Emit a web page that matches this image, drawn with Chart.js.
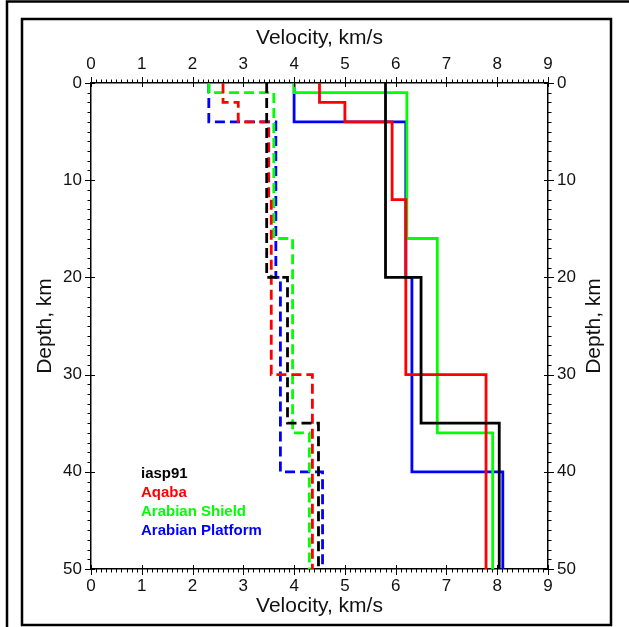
<!DOCTYPE html>
<html>
<head>
<meta charset="utf-8">
<script src="https://cdn.jsdelivr.net/npm/chart.js@4.4.1/dist/chart.umd.min.js"></script>
<style>
  html, body { margin: 0; padding: 0; background: #fff; }
  #wrap { width: 629px; height: 627px; }
</style>
</head>
<body>
<div id="wrap"><canvas id="velChart" width="629" height="627"></canvas></div>
<script>
// models, legend order
const modelNames = ['iasp91', 'Aqaba', 'Arabian Shield', 'Arabian Platform'];
const modelColors = ['#000000', '#ff0000', '#00ff00', '#0000ff'];

// layer tops in km (each layer runs down to the next top, the last one to bottomDepth)
const iaspTops = [0, 20, 35];
const iaspVp = [5.8, 6.5, 8.04];
const iaspVs = [3.46, 3.87, 4.48];

const aqabaTops = [0, 2, 4, 12, 30];
const aqabaVp = [4.5, 5.0, 5.93, 6.2, 7.78];
const aqabaVs = [2.6, 2.9, 3.5, 3.55, 4.36];

const shieldTops = [0, 1, 16, 36];
const shieldVp = [4.0, 6.22, 6.82, 7.91];
const shieldVs = [2.32, 3.6, 3.97, 4.3];

const platformTops = [0, 4, 20, 40];
const platformVp = [4.0, 6.2, 6.32, 8.11];
const platformVs = [2.32, 3.64, 3.73, 4.56];

const bottomDepth = 50;
const velocityTicks = [0, 1, 2, 3, 4, 5, 6, 7, 8, 9];
const depthTicks = [0, 10, 20, 30, 40, 50];

const fontFam = '"Liberation Sans", Arial, Helvetica, sans-serif';

function stepPoints(tops, vel) {
    const pts = [];
    for (let i = 0; i < vel.length; i++) {
        const bot = i + 1 < tops.length ? tops[i + 1] : bottomDepth;
        pts.push({ x: vel[i], y: tops[i] });
        pts.push({ x: vel[i], y: bot });
    }
    return pts;
}

const models = [
    [iaspTops, iaspVp, iaspVs],
    [aqabaTops, aqabaVp, aqabaVs],
    [shieldTops, shieldVp, shieldVs],
    [platformTops, platformVp, platformVs]
];

const datasets = [];
models.forEach((m, i) => {
    datasets.push({
        label: modelNames[i] + ' Vp',
        data: stepPoints(m[0], m[1]),
        borderColor: modelColors[i],
        borderWidth: 2.8,
        showLine: true,
        pointRadius: 0,
        xAxisID: 'x',
        yAxisID: 'y'
    });
    datasets.push({
        label: modelNames[i] + ' Vs',
        data: stepPoints(m[0], m[2]),
        borderColor: modelColors[i],
        borderWidth: 2.8,
        borderDash: [10, 5],
        showLine: true,
        pointRadius: 0,
        xAxisID: 'x',
        yAxisID: 'y'
    });
});

// tick marks (minor + major), legend text, right title, page frame
const extras = {
    id: 'extras',
    afterDraw(chart) {
        const { ctx, chartArea: a } = chart;
        const sx = chart.scales.x, sy = chart.scales.y;
        ctx.save();
        ctx.strokeStyle = '#000';
        ctx.lineWidth = 1;
        ctx.beginPath();
        for (let i = 0; i <= 90; i++) {
            const px = Math.round(sx.getPixelForValue(i / 10)) + 0.5;
            const major = i % 10 === 0;
            const out = major ? 6 : 3.5, inn = major ? 4 : 0;
            ctx.moveTo(px, a.top - out); ctx.lineTo(px, a.top + inn);
            ctx.moveTo(px, a.bottom - inn); ctx.lineTo(px, a.bottom + out);
        }
        for (let d = 0; d <= bottomDepth; d++) {
            const py = Math.round(sy.getPixelForValue(d)) + 0.5;
            const major = d % 10 === 0;
            const out = major ? 6 : 3.5, inn = major ? 4 : 0;
            ctx.moveTo(a.left - out, py); ctx.lineTo(a.left + inn, py);
            ctx.moveTo(a.right - inn, py); ctx.lineTo(a.right + out, py);
        }
        ctx.stroke();

        // legend
        ctx.font = 'bold 15px ' + fontFam;
        ctx.textAlign = 'left';
        ctx.textBaseline = 'alphabetic';
        modelNames.forEach((n, i) => {
            ctx.fillStyle = modelColors[i];
            ctx.fillText(n, 141, 478 + i * 19);
        });

        // right axis title, reads upward like the left one
        ctx.fillStyle = '#111';
        ctx.font = '21px ' + fontFam;
        ctx.translate(594, (a.top + a.bottom) / 2);
        ctx.rotate(-Math.PI / 2);
        ctx.textAlign = 'center';
        ctx.textBaseline = 'middle';
        ctx.fillText('Depth, km', 0, 0);
        ctx.setTransform(1, 0, 0, 1, 0, 0);

        // page frame
        ctx.lineWidth = 2.5;
        ctx.beginPath();
        ctx.moveTo(7, 627); ctx.lineTo(7, 1.5); ctx.lineTo(629, 1.5);
        ctx.stroke();
        ctx.strokeRect(22, 19, 589, 606);
        ctx.restore();
    }
};

function axisX(pos, h, titlePad) {
    return {
        type: 'linear',
        position: pos,
        min: 0,
        max: 9,
        afterBuildTicks: s => { s.ticks = velocityTicks.map(v => ({ value: v })); },
        ticks: { padding: pos === 'top' ? 8 : 7, color: '#111', font: { family: fontFam, size: 17 } },
        grid: { display: false, drawTicks: false },
        border: { display: true, color: '#000', width: 1.5 },
        title: {
            display: true,
            text: 'Velocity, km/s',
            color: '#111',
            font: { family: fontFam, size: 21 },
            padding: pos === 'top' ? { top: titlePad, bottom: 0 } : { top: 0, bottom: titlePad }
        },
        afterFit: s => { s.height = h; }
    };
}

function axisY(pos, w, showTitle) {
    return {
        type: 'linear',
        position: pos,
        reverse: true,
        min: 0,
        max: bottomDepth,
        afterBuildTicks: s => { s.ticks = depthTicks.map(v => ({ value: v })); },
        ticks: { padding: 9, color: '#111', font: { family: fontFam, size: 17 } },
        grid: { display: false, drawTicks: false },
        border: { display: true, color: '#000', width: 1.5 },
        title: {
            display: showTitle,
            text: 'Depth, km',
            color: '#111',
            font: { family: fontFam, size: 21 },
            padding: { top: 33, bottom: 0 }
        },
        afterFit: s => { s.width = w; }
    };
}

const ctx = document.getElementById('velChart').getContext('2d');
const velChart = new Chart(ctx, {
    type: 'scatter',
    data: { datasets: datasets },
    options: {
        responsive: false,
        animation: false,
        layout: { padding: 0 },
        plugins: {
            legend: { display: false },
            tooltip: { enabled: false }
        },
        scales: {
            x: axisX('top', 83, 26),
            x2: axisX('bottom', 627 - 569, 8),
            y: axisY('left', 91, true),
            y2: axisY('right', 629 - 548, false)
        }
    },
    plugins: [extras]
});
</script>
</body>
</html>
